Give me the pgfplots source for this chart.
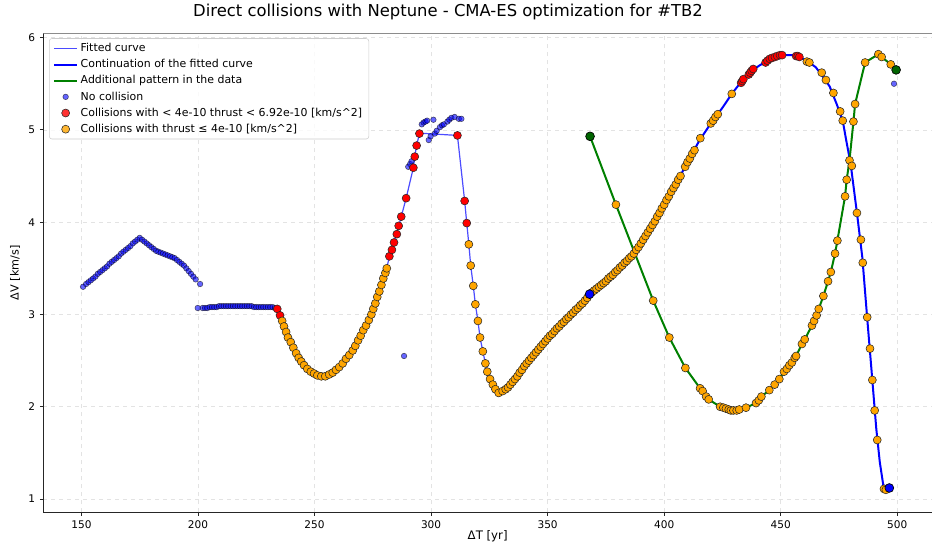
\documentclass[border=0pt]{standalone}
\usepackage{fontspec}
\setmainfont{DejaVu Sans}
\usepackage{pgfplots}
\pgfplotsset{compat=1.18}
\definecolor{mplorange}{HTML}{FFA500}
\definecolor{mplgreen}{HTML}{008000}
\definecolor{mpldarkgreen}{HTML}{006400}
\definecolor{mplblue}{HTML}{0000FF}
\definecolor{mplred}{HTML}{FF0000}
\begin{document}
\begin{tikzpicture}
\begin{axis}[
 scale only axis, width=666.5pt, height=359.3pt,
 xmin=133.65, xmax=514.9, ymin=0.856, ymax=6.047,
 axis x line*=bottom, axis y line*=left,
 axis line style={black!85, line width=0.8pt},
 xtick={150,200,...,500}, ytick={1,2,3,4,5,6},
 tick align=outside, major tick length=2.6pt,
 tick style={black!85, line width=0.6pt},
 grid=major, grid style={dashed, gray!22, line width=0.5pt},
 ticklabel style={font=\fontsize{7.9}{9}\selectfont},
 /pgf/number format/assume math mode=true,
 title={Direct collisions with Neptune - CMA-ES optimization for \#TB2},
 title style={at={(axis description cs:0.4554,1.0173)}, anchor=base, font=\fontsize{12.3}{14}\selectfont},
 xlabel={ΔT [yr]}, ylabel={ΔV [km/s]},
 xlabel style={at={(axis description cs:0.5,-0.049)}, anchor=center, font=\fontsize{8.8}{10}\selectfont},
 ylabel style={at={(axis description cs:-0.0318,0.5)}, anchor=center, font=\fontsize{8.4}{10}\selectfont},
 legend style={at={(0.0064,0.9896)}, anchor=north west, draw=black!20, rounded corners=2pt, fill=white, fill opacity=0.8, text opacity=1, font=\fontsize{8.2}{9.8}\selectfont, inner xsep=3pt, inner ysep=1.5pt, row sep=0.4pt, /tikz/every even column/.append style={column sep=3pt}},
 legend cell align=left,
]
% Fitted curve (thin)
\addplot[mplblue, opacity=0.7, line width=0.9pt] coordinates {
(234.0,3.06)(235.2,2.99)(236.1,2.93)(236.9,2.87)(237.8,2.81)(238.6,2.75)(239.8,2.70)(240.9,2.64)(242.1,2.58)(243.2,2.53)(244.3,2.49)(245.5,2.45)(246.9,2.41)(248.4,2.38)(249.8,2.36)(251.2,2.34)(252.9,2.33)(254.6,2.33)(256.3,2.35)(257.8,2.37)(259.2,2.40)(260.6,2.43)(262.1,2.47)(263.5,2.52)(264.9,2.56)(266.4,2.61)(267.5,2.66)(268.7,2.72)(269.8,2.77)(270.9,2.83)(272.1,2.88)(273.3,2.94)(274.4,3.00)(275.2,3.06)(276.1,3.12)(276.9,3.19)(277.8,3.25)(278.7,3.32)(279.5,3.39)(280.4,3.45)(281.0,3.50)(282.1,3.63)(283.2,3.70)(284.1,3.78)(285.3,3.87)(286.1,3.96)(287.2,4.06)(289.3,4.26)(292.4,4.59)(293.0,4.71)(293.8,4.83)(295.0,4.96)(298.0,4.96)(311.3,4.94)(314.4,4.23)(315.3,3.99)(316.2,3.76)(317.0,3.53)(318.1,3.31)(319.0,3.11)(320.1,2.93)(321.0,2.75)(322.2,2.60)(323.3,2.47)(324.1,2.38)(325.3,2.30)(326.5,2.24)(327.6,2.19)(329.0,2.15)(330.7,2.17)(332,2.19)(334,2.24)(336,2.30)(338,2.37)(340,2.44)(342,2.50)(344,2.56)(346,2.62)(348,2.68)(350,2.74)(352,2.79)(354,2.85)(356,2.90)(358,2.95)(360,3.00)(362,3.05)(364,3.10)(366,3.15)(368,3.22)
};
\addlegendentry{Fitted curve}
% Continuation (thick)
\addplot[mplblue, line width=1.5pt] coordinates {
(368,3.22)(372,3.30)(377,3.41)(382,3.53)(387,3.66)(391,3.81)(395,3.97)(400,4.19)(405,4.41)(410,4.65)(415,4.88)(420,5.07)(425,5.24)(429,5.39)(433,5.52)(437,5.63)(441,5.70)(445,5.76)(450,5.81)(455,5.81)(458,5.79)(461,5.75)(465,5.68)(468,5.58)(471,5.47)(474,5.28)(476.6,5.10)(478,4.90)(480,4.63)(482.7,4.10)(485,3.62)(487,2.99)(489,2.38)(491,1.76)(492.5,1.40)(494,1.15)(496.6,1.12)
};
\addlegendentry{Continuation of the fitted curve}
% Additional pattern (green)
\addplot[mplgreen, line width=1.5pt] coordinates {
(368.2,4.93)(379.3,4.19)(395.3,3.15)(402.2,2.75)(409.1,2.42)(415.4,2.20)(416.5,2.17)(418.0,2.11)(419.1,2.08)(424.0,2.00)(425.4,1.99)(426.5,1.98)(427.7,1.97)(428.6,1.96)(429.7,1.96)(431.1,1.96)(432.2,1.97)(435.1,1.99)(439.4,2.04)(440.6,2.07)(441.7,2.11)(445.1,2.18)(447.4,2.24)(449.4,2.30)(451.4,2.38)(452.6,2.41)(453.7,2.45)(454.8,2.48)(456.0,2.53)(456.6,2.55)(459.1,2.68)(460.3,2.73)(463.4,2.88)(464.3,2.93)(465.4,2.99)(466.3,3.06)(468.3,3.20)(470.3,3.36)(471.5,3.46)(473.3,3.66)(474.3,3.80)(477.6,4.28)(478.3,4.46)(479.5,4.67)(481.2,5.09)(481.9,5.28)(486.2,5.73)(491.9,5.82)(493.3,5.79)(497.2,5.71)(499.5,5.65)
};
\addlegendentry{Additional pattern in the data}
% No collision
\addplot[only marks, mark=*, mark size=2.1pt, mark options={draw=none, fill=mplblue, opacity=0.6}] coordinates {
(150.7,3.30)(152,3.33)(153,3.35)(154,3.37)(155,3.39)(156,3.41)(157,3.44)(158,3.46)(159,3.48)(160,3.50)(161,3.52)(162,3.55)(163,3.57)(164,3.59)(165,3.61)(166,3.63)(167,3.66)(168,3.68)(169,3.70)(170,3.72)(171,3.74)(172,3.77)(173,3.79)(174,3.81)(175,3.83)
(176,3.81)(177,3.79)(178,3.77)(179,3.75)(180,3.73)(181,3.71)(182,3.69)(183,3.68)(184,3.67)(185,3.66)(186,3.65)(187,3.64)(188,3.63)(189,3.62)(190,3.61)(191,3.59)(192,3.57)(193,3.55)(194,3.53)(195,3.50)(196,3.47)(197,3.44)(198,3.41)(199,3.38)(200.9,3.33)
(199.9,3.07)(202,3.07)(203,3.07)(204,3.07)(205,3.08)(206,3.08)(207,3.08)(208,3.08)(209,3.09)(210,3.09)(211,3.09)(212,3.09)(213,3.09)(214,3.09)(215,3.09)(216,3.09)(217,3.09)(218,3.09)(219,3.09)(220,3.09)(221,3.09)(222,3.09)(223,3.09)(224,3.08)(225,3.08)(226,3.08)(227,3.08)(228,3.08)(229,3.08)(230,3.08)(231,3.08)(232,3.08)(233,3.07)
(288.4,2.55)(290.2,4.60)(291.0,4.63)(291.6,4.66)
(296.0,5.06)(296.8,5.08)(297.6,5.09)(298.3,5.10)(301.0,5.11)(299.0,4.89)(299.8,4.93)(301.6,4.96)(302.4,4.99)(303.8,5.03)(304.7,5.05)(305.5,5.06)(307.0,5.09)(307.8,5.11)(308.7,5.13)(310.1,5.14)(311.9,5.12)(313.0,5.12)
(498.6,5.50)
};
\addlegendentry{No collision}
% Red
\addplot[only marks, mark=*, mark size=3.0pt, mark options={draw=black!85, line width=0.4pt, fill=mplred}] coordinates {
(234.0,3.06)(235.2,2.99)(282.1,3.63)(283.2,3.70)(284.1,3.78)(285.3,3.87)(286.1,3.96)(287.2,4.06)(289.3,4.26)(292.4,4.59)(293.0,4.71)(293.8,4.83)(295.0,4.96)(311.3,4.94)(314.4,4.23)(315.3,3.99)
(433.0,5.51)(433.5,5.53)(434.0,5.55)(436.3,5.60)(436.9,5.62)(437.5,5.64)(438.2,5.66)(443.5,5.73)(444.3,5.75)(445.3,5.77)(446.3,5.78)(447.5,5.79)(448.5,5.80)(449.7,5.81)(450.6,5.81)(456.6,5.80)(457.3,5.80)(458.0,5.79)
};
\addlegendentry{Collisions with < 4e-10 thrust < 6.92e-10 [km/s\textasciicircum 2]}
% Orange
\addplot[only marks, mark=*, mark size=3.0pt, mark options={draw=black!85, line width=0.4pt, fill=mplorange}] coordinates {
(236.1,2.93)(236.9,2.87)(237.8,2.81)(238.6,2.75)(239.8,2.70)(240.9,2.64)(242.1,2.58)(243.2,2.53)(244.3,2.49)(245.5,2.45)(246.9,2.41)(248.4,2.38)(249.8,2.36)(251.2,2.34)(252.9,2.33)(254.6,2.33)(256.3,2.35)(257.8,2.37)(259.2,2.40)(260.6,2.43)(262.1,2.47)(263.5,2.52)(264.9,2.56)(266.4,2.61)(267.5,2.66)(268.7,2.72)(269.8,2.77)(270.9,2.83)(272.1,2.88)(273.3,2.94)(274.4,3.00)(275.2,3.06)(276.1,3.12)(276.9,3.19)(277.8,3.25)(278.7,3.32)(279.5,3.39)(280.4,3.45)(281.0,3.50)
(316.2,3.76)(317.0,3.53)(318.1,3.31)(319.0,3.11)(320.1,2.93)(321.0,2.75)(322.2,2.60)(323.3,2.47)(324.1,2.38)(325.3,2.30)(326.5,2.24)(327.6,2.19)(329.0,2.15)(330.7,2.17)
(332,2.19)(333,2.21)(334,2.24)(335,2.27)(336,2.30)(337,2.33)(338,2.37)(339,2.40)(340,2.44)(341,2.47)(342,2.50)(343,2.53)(344,2.56)(345,2.59)(346,2.62)(347,2.65)(348,2.68)(349,2.71)(350,2.74)(351,2.77)(352,2.79)(353,2.82)(354,2.85)(355,2.87)(356,2.90)(357,2.92)(358,2.95)(359,2.97)(360,3.00)(361,3.02)(362,3.05)(363,3.07)(364,3.10)(365,3.12)(366,3.15)(367,3.18)
(369,3.24)(370,3.26)(371,3.28)(372,3.30)(373,3.32)(374,3.34)(375,3.36)(376,3.39)(377,3.41)(378,3.43)(379,3.46)(380,3.48)(381,3.51)(382,3.53)(383,3.56)(384,3.58)(385,3.61)(386,3.63)(387,3.66)(388,3.70)(389,3.73)(390,3.77)(391,3.81)(392,3.85)(393,3.89)(394,3.93)(395,3.97)(396,4.01)(397,4.06)(398,4.10)(399,4.15)(400,4.19)(401,4.24)(402,4.28)(403,4.33)(404,4.37)(405,4.41)(406,4.46)(407,4.50)(409,4.60)(410,4.65)(411,4.69)(412,4.74)(413,4.78)(415.5,4.91)(420,5.07)(421,5.10)(422,5.14)(423,5.17)(429.0,5.39)
(461.2,5.74)(462.3,5.73)(467.6,5.62)(469.4,5.54)(472.6,5.40)(475.5,5.20)(476.6,5.10)(479.5,4.67)(480.5,4.61)(482.7,4.10)(484.4,3.81)(485.2,3.56)(487.1,2.97)(488.3,2.63)(489.3,2.29)(490.3,1.96)(491.4,1.64)(494.3,1.11)(495.1,1.10)
(379.3,4.19)(395.3,3.15)(402.2,2.75)(409.1,2.42)(415.4,2.20)(416.5,2.17)(418.0,2.11)(419.1,2.08)(424.0,2.00)(425.4,1.99)(426.5,1.98)(427.7,1.97)(428.6,1.96)(429.7,1.96)(431.1,1.96)(432.2,1.97)(435.1,1.99)(439.4,2.04)(440.6,2.07)(441.7,2.11)(445.1,2.18)(447.4,2.24)(449.4,2.30)(451.4,2.38)(452.6,2.41)(453.7,2.45)(454.8,2.48)(456.0,2.53)(456.6,2.55)(459.1,2.68)(460.3,2.73)(463.4,2.88)(464.3,2.93)(465.4,2.99)(466.3,3.06)(468.3,3.20)(470.3,3.36)(471.5,3.46)(473.3,3.66)(474.3,3.80)(477.6,4.28)(478.3,4.46)(481.2,5.09)(481.9,5.28)(486.2,5.73)(491.9,5.82)(493.3,5.79)(497.2,5.71)
};
\addlegendentry{Collisions with thrust ≤ 4e-10 [km/s\textasciicircum 2]}
% endpoint markers
\addplot[only marks, forget plot, mark=*, mark size=3.3pt, mark options={draw=black, line width=0.5pt, fill=mplblue}] coordinates {(368,3.22)(496.6,1.12)};
\addplot[only marks, forget plot, mark=*, mark size=3.3pt, mark options={draw=black, line width=0.5pt, fill=mpldarkgreen}] coordinates {(368.2,4.93)(499.5,5.65)};
\draw[black!45, line width=1.1pt] (rel axis cs:0,1) -- (rel axis cs:1,1);
\end{axis}
\pgfresetboundingbox
\path[use as bounding box] (-32.5pt,-23pt) rectangle (666.5pt,384.25pt);
\end{tikzpicture}
\end{document}
